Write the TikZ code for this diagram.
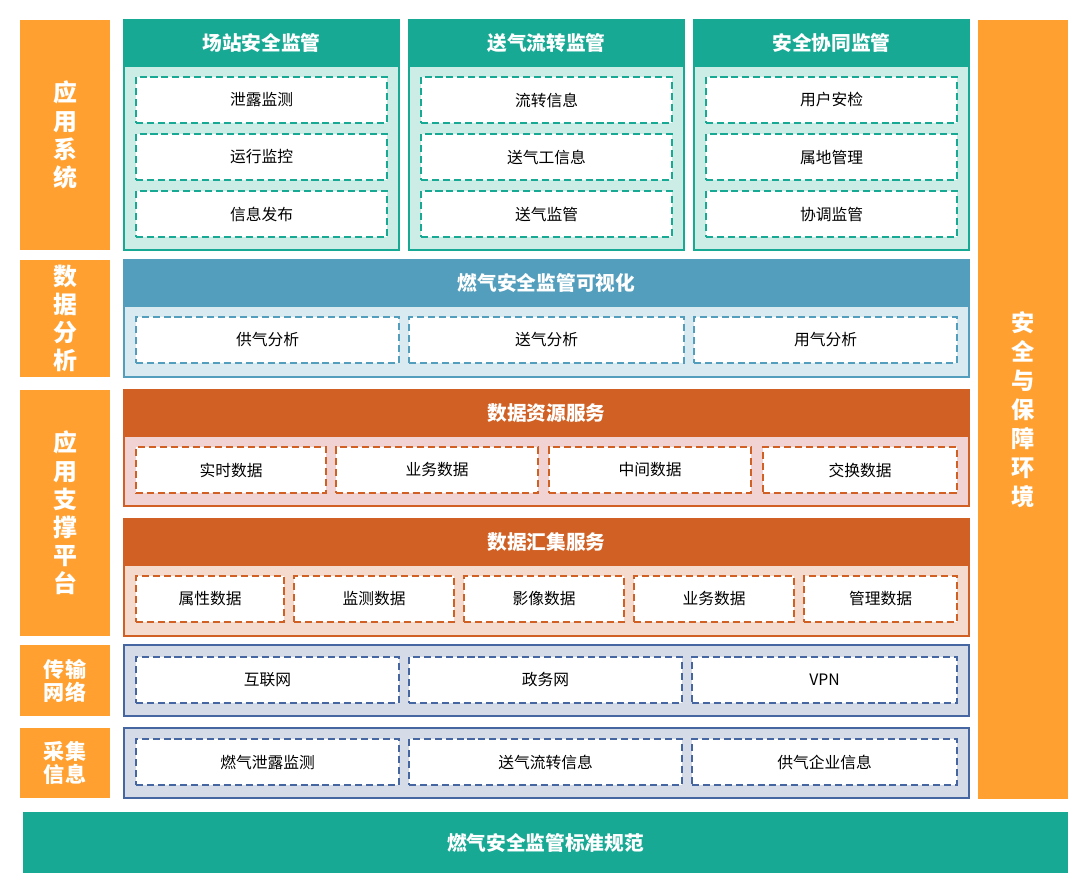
\documentclass[tikz,border=0pt]{standalone}
\usepackage{fontspec}
\setmainfont{Noto Sans CJK SC}
\usepackage{xcolor}
\usetikzlibrary{positioning}
\definecolor{corange}{HTML}{FFA030}
\definecolor{cteal}{HTML}{17A994}
\definecolor{lteal}{HTML}{CCEDE6}
\definecolor{cblue}{HTML}{539EBC}
\definecolor{lblue}{HTML}{DAEAF1}
\definecolor{cbrown}{HTML}{D06023}
\definecolor{lpink}{HTML}{F2D3D3}
\definecolor{lpeach}{HTML}{F5DBCE}
\definecolor{cnavy}{HTML}{4566A1}
\definecolor{lnavy}{HTML}{D5DCE7}
\tikzset{
wh/.style 2 args={minimum width=#1*0.025cm,minimum height=#2*0.025cm},
sidebar/.style={fill=corange,text=white,anchor=north west,inner sep=0pt,outer sep=0pt,align=center,font=\bfseries\fontsize{17}{20}\selectfont},
panelbox/.style 2 args={draw=#1,fill=#2,line width=1.4pt,anchor=north west,inner sep=0pt,outer sep=0pt},
headbar/.style={fill=#1,text=white,anchor=north west,inner sep=0pt,outer sep=0pt,font=\bfseries\fontsize{14}{17}\selectfont},
itembox/.style={draw=#1,fill=white,line width=1.4pt,dash pattern=on 5pt off 2.8pt,anchor=north west,inner sep=0pt,outer sep=0pt,font=\fontsize{11.2}{13}\selectfont}
}
\begin{document}
\begin{tikzpicture}[x=0.025cm,y=-0.025cm]
\useasboundingbox (0,0) rectangle (1087,892);
% left column
\node[sidebar,wh={90}{230}] (sApp) at (20,20) {应\\用\\系\\统};
\node[sidebar,wh={90}{117}] (sAna) at (20,260) {数\\据\\分\\析};
\node[sidebar,wh={90}{246}] (sSup) at (20,390) {应\\用\\支\\撑\\平\\台};
\node[sidebar,wh={90}{71},font=\bfseries\fontsize{15}{16.5}\selectfont] (sNet) at (20,645) {传输\\网络};
\node[sidebar,wh={90}{70},font=\bfseries\fontsize{15}{16.5}\selectfont] (sCol) at (20,728) {采集\\信息};
% right column and bottom bar
\node[sidebar,wh={90}{779},font=\bfseries\fontsize{16.5}{20.6}\selectfont] (sSafe) at (978,20) {安\\全\\与\\保\\障\\环\\境};
\node[headbar=cteal,wh={1045}{61}] (norm) at (23,812) {燃气安全监管标准规范};
% application systems
\node[panelbox={cteal}{lteal},wh={275}{230}] (pA) at (124,20) {};
\node[panelbox={cteal}{lteal},wh={275}{230}] (pB) at (409,20) {};
\node[panelbox={cteal}{lteal},wh={275}{230}] (pC) at (694,20) {};
\node[headbar=cteal,wh={275}{47}] (hA) at (124,20) {场站安全监管};
\node[headbar=cteal,wh={275}{47}] (hB) at (409,20) {送气流转监管};
\node[headbar=cteal,wh={275}{47}] (hC) at (694,20) {安全协同监管};
\foreach \t [count=\i] in {泄露监测,运行监控,信息发布}
  \node[itembox=cteal,wh={251}{46}] (a\i) at (136,20+57*\i) {\t};
\foreach \t [count=\i] in {流转信息,送气工信息,送气监管}
  \node[itembox=cteal,wh={251}{46}] (b\i) at (421,20+57*\i) {\t};
\foreach \t [count=\i] in {用户安检,属地管理,协调监管}
  \node[itembox=cteal,wh={251}{46}] (c\i) at (706,20+57*\i) {\t};
% data analysis
\node[panelbox={cblue}{lblue},wh={845}{117}] (pAna) at (124,260) {};
\node[headbar=cblue,wh={845}{47}] (hAna) at (124,260) {燃气安全监管可视化};
\node[itembox=cblue,wh={263}{46}] (d1) at (136,317) {供气分析};
\node[itembox=cblue,wh={275}{46}] (d2) at (409,317) {送气分析};
\node[itembox=cblue,wh={263}{46}] (d3) at (694,317) {用气分析};
% data resource service
\node[panelbox={cbrown}{lpink},wh={845}{116}] (pRes) at (124,390) {};
\node[headbar=cbrown,wh={845}{47}] (hRes) at (124,390) {数据资源服务};
\node[itembox=cbrown,wh={190}{46}] (r1) at (136,447) {实时数据};
\node[itembox=cbrown,wh={202}{46}] (r2) at (336,447) {业务数据};
\node[itembox=cbrown,wh={202}{46}] (r3) at (549,447) {中间数据};
\node[itembox=cbrown,wh={194}{46}] (r4) at (763,447) {交换数据};
% data gathering service
\node[panelbox={cbrown}{lpeach},wh={845}{117}] (pGat) at (124,519) {};
\node[headbar=cbrown,wh={845}{47}] (hGat) at (124,519) {数据汇集服务};
\node[itembox=cbrown,wh={148}{46}] (g1) at (136,576) {属性数据};
\node[itembox=cbrown,wh={160}{46}] (g2) at (294,576) {监测数据};
\node[itembox=cbrown,wh={160}{46}] (g3) at (464,576) {影像数据};
\node[itembox=cbrown,wh={160}{46}] (g4) at (634,576) {业务数据};
\node[itembox=cbrown,wh={153}{46}] (g5) at (804,576) {管理数据};
% network
\node[panelbox={cnavy}{lnavy},wh={845}{71}] (pNet) at (124,645) {};
\node[itembox=cnavy,wh={263}{46}] (n1) at (136,657) {互联网};
\node[itembox=cnavy,wh={273}{46}] (n2) at (409,657) {政务网};
\node[itembox=cnavy,wh={265}{46}] (n3) at (692,657) {VPN};
% collected information
\node[panelbox={cnavy}{lnavy},wh={845}{70}] (pCol) at (124,728) {};
\node[itembox=cnavy,wh={263}{46}] (k1) at (136,739) {燃气泄露监测};
\node[itembox=cnavy,wh={273}{46}] (k2) at (409,739) {送气流转信息};
\node[itembox=cnavy,wh={265}{46}] (k3) at (692,739) {供气企业信息};
\end{tikzpicture}
\end{document}
